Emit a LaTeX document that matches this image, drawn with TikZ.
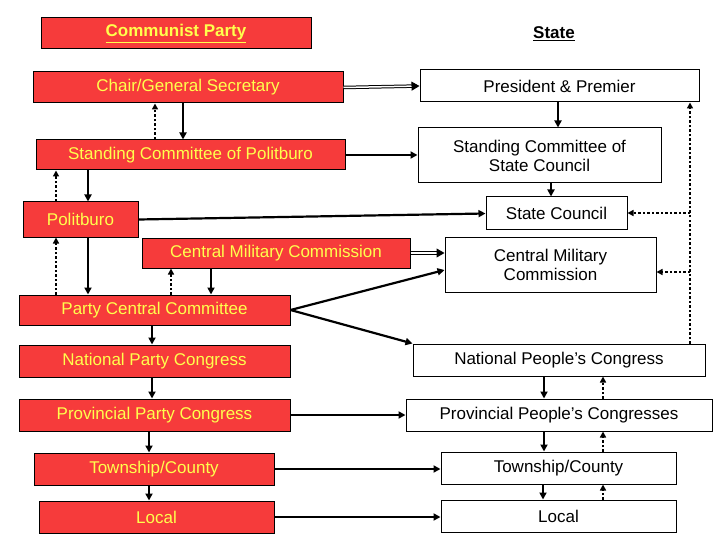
\documentclass[tikz,border=0pt]{standalone}
\usepackage{fontspec}
\setmainfont{Liberation Sans}
\usetikzlibrary{arrows.meta}
\definecolor{pred}{HTML}{F63B3B}
\definecolor{pyel}{HTML}{FFFF4D}
\begin{document}
\begin{tikzpicture}[x=1pt,y=-1pt,
  base/.style={draw=black,line width=1pt,inner sep=0pt,font=\fontsize{17}{19}\selectfont},
  party/.style={base,fill=pred,text=pyel},
  state/.style={base,fill=white,align=center},
  ar/.style={-{Triangle[length=7pt,width=7pt]},line width=2.2pt},
  dar/.style={-{Triangle[length=6pt,width=6pt]},line width=2pt,dash pattern=on 2.5pt off 2pt},
  dbl/.style={-{Triangle[length=8pt,width=9pt]},double,double distance=1.5pt,line width=1pt}]
\useasboundingbox (0,0) rectangle (720,540);
\def\bx#1#2#3#4#5#6#7{\node[#2,minimum width=#5-#3,minimum height=#6-#4] (#1) at ({(#3+#5)/2},{(#4+#6)/2}) {#7};}
\bx{cp}{party}{41}{18}{311}{49}{\bfseries\underline{Communist Party}}
\node[font=\fontsize{17}{19}\selectfont\bfseries] (st) at (554,34) {\underline{State}};
\bx{chair}{party}{33}{72}{343}{103}{Chair/General Secretary}
\bx{pres}{state}{420}{70}{699}{102}{President \& Premier}
\bx{scp}{party}{36}{140}{345}{170}{Standing Committee of Politburo}
\bx{scsc}{state}{418}{128}{661}{183}{Standing Committee of\\State Council}
\bx{sc}{state}{486}{197}{627}{230}{State Council}
\bx{pb}{party}{23}{202}{138}{237}{Politburo}
\bx{cmcp}{party}{142}{238}{410}{268}{Central Military Commission}
\bx{cmcs}{state}{445}{237}{656}{292}{Central Military\\Commission}
\bx{pcc}{party}{19}{295}{290}{325}{Party Central Committee}
\bx{npc}{party}{19}{345}{290}{377}{National Party Congress}
\bx{npeo}{state}{413}{344}{705}{376}{National People’s Congress}
\bx{ppc}{party}{19}{399}{290}{431}{Provincial Party Congress}
\bx{ppeo}{state}{406}{399}{712}{431}{Provincial People’s Congresses}
\bx{twp}{party}{34}{453}{274}{485}{Township/County}
\bx{tws}{state}{441}{452}{676}{484}{Township/County}
\bx{locp}{party}{39}{501}{274}{533}{Local}
\bx{locs}{state}{441}{500}{676}{532}{Local}
% horizontal
\draw[dbl] (chair.east) -- (pres.west);
\draw[dbl] (cmcp.east) -- (cmcs.west|-cmcp.east);
\draw[ar] (scp.east) -- (scsc.west|-scp.east);
\draw[ar] (pb.east) -- (sc.west);
\draw[ar] (pcc.east) -- (cmcs.west|-0,270);
\draw[ar] (pcc.east) -- (npeo.north west);
\draw[ar] (ppc.east) -- (ppeo.west);
\draw[ar] (twp.east) -- (tws.west|-twp.east);
\draw[ar] (locp.east) -- (locs.west|-locp.east);
% vertical solid
\draw[ar] (pres.south-|558,0) -- (scsc.north-|558,0);
\draw[ar] (scsc.south-|551,0) -- (sc.north-|551,0);
\draw[ar] (chair.south-|183,0) -- (scp.north-|183,0);
\draw[ar] (scp.south-|88,0) -- (pb.north-|88,0);
\draw[ar] (pb.south-|88,0) -- (pcc.north-|88,0);
\draw[ar] (cmcp.south-|211,0) -- (pcc.north-|211,0);
\draw[ar] (pcc.south-|152,0) -- (npc.north-|152,0);
\draw[ar] (npc.south-|152,0) -- (ppc.north-|152,0);
\draw[ar] (ppc.south-|149,0) -- (twp.north-|149,0);
\draw[ar] (twp.south-|149,0) -- (locp.north-|149,0);
\draw[ar] (npeo.south-|544,0) -- (ppeo.north-|544,0);
\draw[ar] (ppeo.south-|544,0) -- (tws.north-|544,0);
\draw[ar] (tws.south-|543,0) -- (locs.north-|543,0);
% dotted up
\draw[dar] (scp.north-|155,0) -- (chair.south-|155,0);
\draw[dar] (pb.north-|56,0) -- (scp.south-|56,0);
\draw[dar] (pcc.north-|56,0) -- (pb.south-|56,0);
\draw[dar] (pcc.north-|171,0) -- (cmcp.south-|171,0);
\draw[dar] (ppeo.north-|603,0) -- (npeo.south-|603,0);
\draw[dar] (tws.north-|603,0) -- (ppeo.south-|603,0);
\draw[dar] (locs.north-|603,0) -- (tws.south-|603,0);
\coordinate (j1) at (690,213);
\coordinate (j2) at (690,272);
\draw[dar] (npeo.north-|690,0) -- (pres.south-|690,0);
\draw[dar] (j1) -- (sc.east|-j1);
\draw[dar] (j2) -- (cmcs.east|-j2);
\end{tikzpicture}
\end{document}
